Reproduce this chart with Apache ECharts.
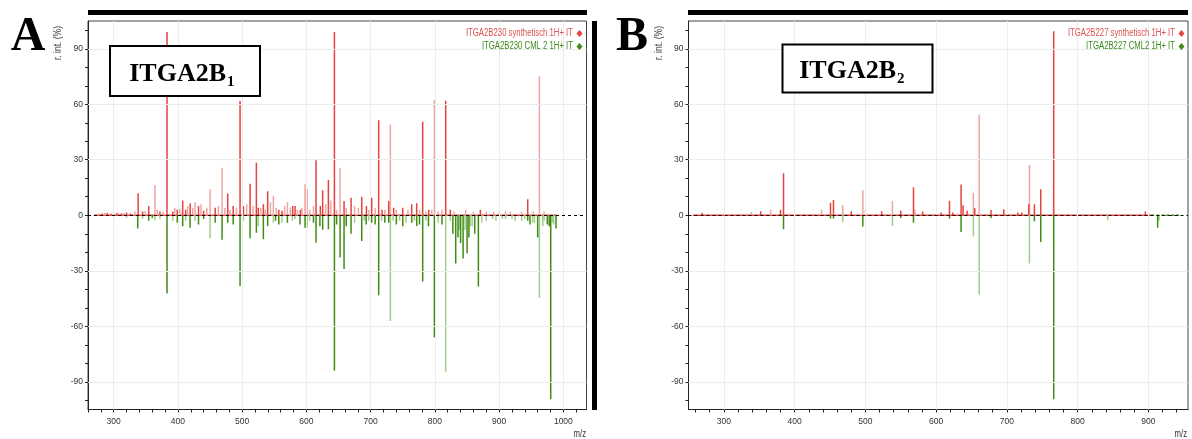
<!DOCTYPE html>
<html><head><meta charset="utf-8">
<script src="https://cdn.jsdelivr.net/npm/echarts@6/dist/echarts.min.js"></script>
<style>html,body{margin:0;padding:0;background:#fff}#c{width:1192px;height:439px}</style>
</head><body><div id="c"></div>
<script>
// ---------- Panel A (ITGA2B230) ----------
const aXLabels = [300, 400, 500, 600, 700, 800, 900, 1000];
const aXTicks = [260,280,300,320,340,360,380,400,420,440,460,480,500,520,540,560,580,600,620,640,660,680,700,720,740,760,780,800,820,840,860,880,900,920,940,960,980,1000,1020];
const aRedStrong = [[282,1],[290,1.2],[296,0.8],[305,1.3],[312,1],[320,1.5],[326,1],[338,11.9],[345,2],[354.5,5],[372,2],[383,99],[392,2],[399,3],[407.4,8],[412,3],[419,6.5],[432,5],[440,2.5],[458,4],[477.5,11.7],[486,5],[496.7,61.7],[502,5],[512.3,17],[522.1,28.4],[525,4],[533,6],[539.7,13],[557,3],[562,2.5],[578.6,5],[582.3,5],[590.6,3],[600.4,14],[615,29.7],[621.7,5],[625.3,13.5],[634.2,19],[643.6,99],[658.6,7.7],[669.5,9.5],[686.1,10],[693.4,5],[701.6,9.5],[712.5,51.3],[717.8,3],[728.1,7.7],[735.9,4],[749.9,4],[763.9,6],[771.7,6.5],[781,50.6],[790.4,3],[816.8,61.9],[824,3],[870.8,3],[944.5,8.6]];
const aRedLight = [[275,1],[286,1.5],[300,1.5],[309,1],[316,1.2],[333,2],[349,2.5],[364.4,16.2],[368,3],[377,2],[395,4],[403,3.5],[415,5],[423,4],[426.7,7],[436,6],[445,4],[450,14],[463,5],[468.7,25.7],[473,4],[481,3],[491,4],[507,6],[517,5],[529,4],[536,3],[544,7],[548.6,10.4],[553,4],[566,5],[570.4,7],[575,4],[586,3],[593,4],[597.9,16.7],[605,3],[611,5],[630,6],[638,8],[647,3],[652.4,25.7],[662,4],[675,5],[681,4],[697,3],[707,4],[722,3],[730.7,49.1],[740,3],[758,3],[776,3],[786,2],[795,3],[799.2,62.3],[805,2],[811,3],[830,2],[848,3],[860,2],[880,2],[891.5,2],[900,2],[910,2],[917.5,2],[935,2],[953,2],[962.7,75.2],[970,2],[1024,0.5]];
const aGreenStrong = [[337.4,-7.2],[354.5,-3],[360,-1.5],[383,-42.3],[399,-4],[407.4,-6],[418.9,-6.7],[432,-5],[440,-2],[458,-4],[468.7,-13.3],[477.5,-4],[486,-5],[496.7,-38.2],[512.3,-12.4],[522.1,-9.4],[533,-13],[539.7,-5.8],[552,-3],[557,-5],[570.4,-4],[590,-5],[597.9,-6.7],[600.4,-6.7],[611,-4],[615,-14.8],[621,-6],[625.3,-7.9],[634.2,-7.6],[643.6,-84],[647,-5],[652.4,-22.9],[658.6,-29],[662,-6],[669.5,-10],[686.1,-13.9],[693,-5],[701.6,-4],[707,-5],[712.5,-43.2],[722,-4],[728.1,-4],[740,-5],[750,-6],[763.9,-4],[771.7,-5.8],[776,-5],[781,-35.8],[790,-6],[799.2,-66],[811,-5],[828,-10],[832.4,-26.1],[836,-12],[840,-15],[843.9,-23.4],[850.1,-20.5],[853,-12],[862,-10],[867.7,-38.5],[944.5,-3],[948,-5],[960,-12],[975,-5],[978,-6],[980.3,-99.4],[988.6,-7.2]];
const aGreenLight = [[300,-1],[320,-1.5],[345,-2],[364,-2.5],[372,-2],[392,-3],[412,-3],[426.7,-3],[450,-12.4],[502,-3],[525,-6],[548.6,-4],[562,-4],[578,-3],[582,-2],[605,-3],[675,-4],[690,-3],[697,-3],[717,-3],[730.7,-57.2],[735,-3],[745,-3],[755,-4],[768,-3],[786,-3],[805,-4],[816.8,-84.6],[824,-3],[838,-8],[847,-8],[855,-6],[858,-6],[873,-4],[880,-3],[890,-2],[895,-3],[905,-2],[910,-2],[920,-2],[925,-3],[935,-3],[940,-2],[952,-4],[955,-4],[962.7,-44.6],[968,-6],[970,-3],[983,-4],[985,-5]];
const aRedBase = [[269,0],[990,0]];

// ---------- Panel B (ITGA2B227) ----------
const bXLabels = [300, 400, 500, 600, 700, 800, 900];
const bXTicks = [260,280,300,320,340,360,380,400,420,440,460,480,500,520,540,560,580,600,620,640,660,680,700,720,740,760,780,800,820,840,860,880,900,920,940];
const bRedStrong = [[269.4,1.3],[352,2.2],[380,3],[384.3,22.7],[450.7,6.8],[454.9,8.3],[480,2.2],[523,2.2],[550,2.5],[568,15.1],[581,2],[607,1.5],[618.9,7.9],[623.5,1.5],[635.3,16.6],[638.1,5.4],[643.8,2.5],[654.6,3.8],[677.6,2.9],[695.6,3.2],[715.4,1.5],[721,1.5],[730.9,6],[738.9,6],[747.9,14],[766.2,99.5],[895.7,2]];
const bRedLight = [[338.7,1.8],[366,3],[438,3],[468,5.4],[496.4,13.5],[500,3],[538.3,7.7],[570,3],[652.7,12.2],[660.8,54.5],[731.9,27.2],[842.5,0.7]];
const bGreenStrong = [[384.3,-7.6],[450.7,-1.8],[454.9,-1.8],[496.4,-6.1],[550,-1.5],[568,-4.1],[618.9,-1.8],[635.3,-9],[677.6,-1.5],[738.9,-3.2],[747.9,-14.4],[766.2,-99.4],[913.1,-6.7]];
const bGreenLight = [[468,-3.6],[538.3,-5.8],[652.7,-11.5],[660.8,-42.8],[731.9,-26.1],[842.5,-2.7],[915,-3]];
const bRedBase = [[256,0],[904,0]];
const bGreenBase = [[904,0],[945,0]];

// ---------- shared ----------
const yLabels = [-90, -60, -30, 0, 30, 60, 90];
const yTicks = [-100,-90,-80,-70,-60,-50,-40,-30,-20,-10,0,10,20,30,40,50,60,70,80,90,100];
const legendA = ['ITGA2B230 synthetisch 1H+ IT', 'ITGA2B230 CML 2 1H+ IT'];
const legendB = ['ITGA2B227 synthetisch 1H+ IT', 'ITGA2B227 CML2 1H+ IT'];

const SANS = '"Liberation Sans",Arial,sans-serif';
const SERIF = '"Liberation Serif","Times New Roman","DejaVu Serif",serif';
const RED = '#e5433d', RED_L = '#eda6a6', GREEN = '#3f8c14', GREEN_L = '#a2cc8c';
const GRID_C = '#ececec';
const NARROW_SCALE = 0.775;

function xAxis(gi, min, max, labels, ticks) {
  return {
    gridIndex: gi, type: 'value', min: min, max: max,
    axisLine: { show: true, onZero: false, lineStyle: { color: '#222', width: 1 } },
    axisTick: { show: true, customValues: ticks, length: 3, lineStyle: { color: '#222' } },
    axisLabel: { customValues: labels, fontSize: 8.5, color: '#333', margin: 8, fontFamily: SANS, formatter: v => String(v) },
    splitLine: { show: false }
  };
}
function yAxis(gi) {
  return {
    gridIndex: gi, type: 'value', min: -105, max: 105,
    axisLine: { show: true, onZero: false, lineStyle: { color: '#222', width: 1 } },
    axisTick: { show: true, customValues: yTicks, length: 3, lineStyle: { color: '#222' } },
    axisLabel: { customValues: yLabels, fontSize: 8.5, color: '#333', margin: 5, fontFamily: SANS, formatter: v => String(v) },
    splitLine: { show: false }
  };
}
function gridLines(gi, xl) {
  const d = xl.map(v => ({ xAxis: v })).concat(yLabels.filter(v => v !== 0).map(v => ({ yAxis: v })));
  d.push({ yAxis: 0, lineStyle: { color: '#000', type: [3, 3], width: 1 } });
  return {
    type: 'line', xAxisIndex: gi, yAxisIndex: gi, data: [], z: 1, silent: true,
    markLine: { silent: true, symbol: ['none', 'none'], label: { show: false },
      lineStyle: { color: GRID_C, type: 'solid', width: 1 }, data: d, animation: false }
  };
}
function sticks(gi, name, data, color) {
  return {
    type: 'custom', name: name, xAxisIndex: gi, yAxisIndex: gi, data: data, z: 4, silent: true, clip: true,
    encode: { x: 0, y: 1 },
    renderItem: function (params, api) {
      const p0 = api.coord([api.value(0), 0]);
      const p1 = api.coord([api.value(0), api.value(1)]);
      const top = Math.min(p0[1], p1[1]);
      return { type: 'rect', shape: { x: p0[0] - 0.75, y: top, width: 1.5, height: Math.abs(p1[1] - p0[1]) }, style: { fill: color } };
    }
  };
}
function base(gi, data, color, dashed) {
  return { type: 'line', xAxisIndex: gi, yAxisIndex: gi, data: data, symbol: 'none', z: 3, silent: true,
    lineStyle: { color: color, width: 1.3, type: dashed ? [3, 2] : 'solid' } };
}
function legendGraphics(names, xr) {
  const out = [];
  const ys = [33.5, 46.5];
  const tc = ['#d9534f', '#3a8a1a'];
  const ic = [RED, GREEN];
  for (let i = 0; i < 2; i++) {
    out.push({ type: 'text', x: xr, y: ys[i], scaleX: NARROW_SCALE, z: 100,
      style: { text: names[i], font: '10px ' + SANS, fill: tc[i], align: 'right', verticalAlign: 'middle' } });
    out.push({ type: 'polygon', z: 100, x: xr + 6.5, y: ys[i],
      shape: { points: [[0, -3.5], [3, 0], [0, 3.5], [-3, 0]] }, style: { fill: ic[i] } });
  }
  return out;
}
function txt(x, y, s, font, extra, sx) {
  return { type: 'text', x: x, y: y, z: 100, scaleX: sx || 1, style: Object.assign({ text: s, font: font, fill: '#000' }, extra || {}) };
}

const chart = echarts.init(document.getElementById('c'), null, { renderer: 'canvas' });
chart.setOption({
  animation: false,
  backgroundColor: '#fff',
  grid: [
    { left: 88, top: 21, width: 498.5, height: 388.5, show: true, borderColor: '#444', borderWidth: 1 },
    { left: 688.5, top: 21, width: 499.5, height: 388.5, show: true, borderColor: '#444', borderWidth: 1 }
  ],
  xAxis: [xAxis(0, 260, 1036, aXLabels, aXTicks), xAxis(1, 250, 956, bXLabels, bXTicks)],
  yAxis: [yAxis(0), yAxis(1)],
  series: [
    gridLines(0, aXLabels),
    base(0, aRedBase, RED, false),
    sticks(0, legendA[0], aRedLight, RED_L),
    sticks(0, legendA[0], aRedStrong, RED),
    sticks(0, legendA[1], aGreenLight, GREEN_L),
    sticks(0, legendA[1], aGreenStrong, GREEN),
    gridLines(1, bXLabels),
    base(1, bRedBase, RED, false),
    base(1, bGreenBase, GREEN, true),
    sticks(1, legendB[0], bRedLight, RED_L),
    sticks(1, legendB[0], bRedStrong, RED),
    sticks(1, legendB[1], bGreenLight, GREEN_L),
    sticks(1, legendB[1], bGreenStrong, GREEN)
  ],
  graphic: [
    { type: 'rect', z: 100, shape: { x: 88, y: 10, width: 499, height: 5 }, style: { fill: '#000' } },
    { type: 'rect', z: 100, shape: { x: 592, y: 21, width: 5, height: 389 }, style: { fill: '#000' } },
    { type: 'rect', z: 100, shape: { x: 688, y: 10, width: 500, height: 5 }, style: { fill: '#000' } },
    txt(28, 38, 'A', 'bold 48px ' + SERIF, { align: 'center', verticalAlign: 'middle' }),
    txt(632, 38, 'B', 'bold 48px ' + SERIF, { align: 'center', verticalAlign: 'middle' }),
    { type: 'rect', z: 100, shape: { x: 110, y: 46, width: 150, height: 50 }, style: { fill: '#fff', stroke: '#000', lineWidth: 2 } },
    txt(226, 74, 'ITGA2B', 'bold 26px ' + SERIF, { align: 'right', verticalAlign: 'middle' }),
    txt(227, 82, '1', 'bold 15px ' + SERIF, { align: 'left', verticalAlign: 'middle' }),
    { type: 'rect', z: 100, shape: { x: 782.5, y: 44.5, width: 150, height: 48 }, style: { fill: '#fff', stroke: '#000', lineWidth: 2 } },
    txt(896, 71, 'ITGA2B', 'bold 26px ' + SERIF, { align: 'right', verticalAlign: 'middle' }),
    txt(897, 79, '2', 'bold 15px ' + SERIF, { align: 'left', verticalAlign: 'middle' }),
    { type: 'text', x: 58, y: 43, rotation: Math.PI / 2, scaleX: 0.85, z: 100, style: { text: 'r. int. (%)', font: '10px ' + SANS, fill: '#333', align: 'center', verticalAlign: 'middle' } },
    { type: 'text', x: 659, y: 43, rotation: Math.PI / 2, scaleX: 0.85, z: 100, style: { text: 'r. int. (%)', font: '10px ' + SANS, fill: '#333', align: 'center', verticalAlign: 'middle' } },
    txt(586, 434, 'm/z', '10px ' + SANS, { align: 'right', verticalAlign: 'middle', fill: '#333' }, NARROW_SCALE),
    txt(1187, 434, 'm/z', '10px ' + SANS, { align: 'right', verticalAlign: 'middle', fill: '#333' }, NARROW_SCALE)
  ].concat(legendGraphics(legendA, 573), legendGraphics(legendB, 1175))
});
</script>
</body></html>
